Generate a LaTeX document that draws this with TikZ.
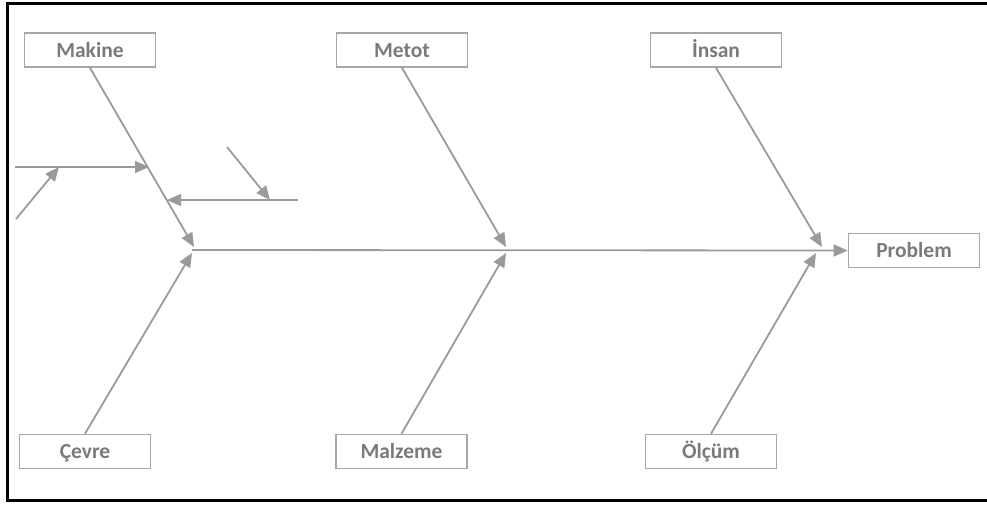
\documentclass[tikz,border=0pt]{standalone}
\usepackage{fontspec}
\setmainfont{Carlito}
\usetikzlibrary{arrows.meta,calc}
\definecolor{linegray}{HTML}{9A9A9A}
\definecolor{boxgray}{HTML}{A6A6A6}
\definecolor{textgray}{HTML}{7A7A7A}
\begin{document}
\begin{tikzpicture}[x=1pt,y=-1pt,
  cause/.style={draw=boxgray,line width=1.6pt,fill=white,minimum width=131pt,minimum height=34pt,
    inner sep=0pt,text height=14pt,text depth=0pt,
    font=\fontsize{21.5}{24}\selectfont\bfseries,text=textgray},
  bone/.style={draw=linegray,line width=1.8pt},
  arr/.style={bone,-{Triangle[length=14pt,width=12pt]}},
]
\useasboundingbox (0,0) rectangle (987,504);
% outer frame
\draw[line width=3pt,black] (990,3.5) -- (7.5,3.5) -- (7.5,500) -- (990,500);

% category boxes
\node[cause] (makine)  at (90,50)   {Makine};
\node[cause] (metot)   at (402,50)  {Metot};
\node[cause] (insan)   at (716,50)  {İnsan};
\node[cause] (cevre)   at (85,451.5)  {Çevre};
\node[cause] (malzeme) at (401.5,451.5) {Malzeme};
\node[cause] (olcum)   at (711,451.5) {Ölçüm};
\node[cause] (problem) at (914,250.5) {Problem};

% spine and joints
\coordinate (j1) at (192,250);
\coordinate (j2) at (506,250);
\coordinate (j3) at (822,250);
\draw[arr] (j1) -- (problem.west);

% main bones
\draw[arr] (makine.south)  -- ($(j1)+(2,-3)$);
\draw[arr] (metot.south)   -- ($(j2)+(0,-3)$);
\draw[arr] (insan.south)   -- ($(j3)+(0,-3)$);
\draw[arr] (cevre.north)   -- ($(j1)+(0,3)$);
\draw[arr] (malzeme.north) -- ($(j2)+(0,3)$);
\draw[arr] (olcum.north)   -- ($(j3)+(-6,3)$);

% sub-causes on the Makine bone
\coordinate (s1a) at (15,167);
\coordinate (s1b) at (149,167);
\coordinate (s1c) at (16,219);
\coordinate (s1d) at (59,167);
\draw[arr] (s1a) -- (s1b);
\draw[arr] (s1c) -- (s1d);
\coordinate (s2a) at (298,200);
\coordinate (s2b) at (167,200);
\coordinate (s2c) at (227,147);
\coordinate (s2d) at (270,200);
\draw[arr] (s2a) -- (s2b);
\draw[arr] (s2c) -- (s2d);
\end{tikzpicture}
\end{document}
